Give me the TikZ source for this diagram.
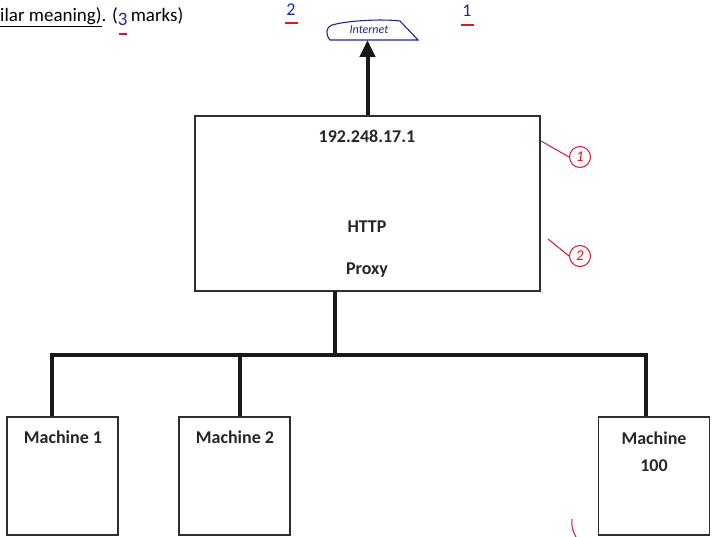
\documentclass[tikz,border=0pt]{standalone}
\usepackage{fontspec}
\setmainfont{Carlito}
\usetikzlibrary{arrows.meta}
\definecolor{pen}{HTML}{1C2A8C}
\definecolor{redpen}{HTML}{D8142A}
\definecolor{edge}{HTML}{2E2E2E}
\tikzset{
  box/.style={draw=edge, line width=1.8pt, fill=white, inner sep=0pt},
  lbl/.style={font=\fontsize{18}{20}\selectfont\bfseries, text=black!85, inner sep=0pt},
  wire/.style={line width=4pt, draw=black!90},
  hand/.style={text=pen, font=\fontsize{18}{20}\selectfont, inner sep=0pt},
  redmark/.style={draw=redpen, line width=1pt},
  redcircle/.style={draw=redpen, line width=1pt, circle, minimum size=21pt, inner sep=0pt, text=redpen, font=\fontsize{15}{16}\selectfont\itshape}
}
\begin{document}
\begin{tikzpicture}[x=1pt,y=-1pt]
\useasboundingbox (0,0) rectangle (713,537);
% header text
\node[anchor=west, inner sep=0pt, font=\fontsize{19}{21}\selectfont] (hdr) at (0,17) {\underline{ilar meaning)}. (\raisebox{-4pt}{\textcolor{pen}{3}}\,marks)};
\draw[redmark, line width=1.5pt] (119,34) -- (127,34);
\node[hand] (two) at (291,10) {2};
\draw[redmark, line width=1.5pt] (285,23) -- (298,23);
\node[hand] (one) at (467,11) {1};
\draw[redmark, line width=1.5pt] (461,25) -- (474,25);
% internet cloud
\draw[pen, line width=1.1pt] (330,40) .. controls (325,34) and (326,27) .. (332,25)
  .. controls (350,20) and (385,19) .. (400,21) -- (418,40) -- cycle;
\node[text=pen, inner sep=0pt, font=\fontsize{12}{13}\selectfont\itshape] (internet) at (369,30) {Internet};
% proxy box
\node[box, minimum width=345pt, minimum height=175pt] (proxy) at (367.5,203.5) {};
\node[lbl] (ip) at (367,136) {192.248.17.1};
\node[lbl] (http) at (367,227) {HTTP};
\node[lbl] (prx) at (367,270) {Proxy};
% arrow up to internet
\draw[wire, -{Triangle[length=17pt,width=15pt]}] (proxy.north) -- (367.5,40);
% red annotations
\node[redcircle] (c1) at (580,157) {1};
\draw[redmark] (541,141) -- (c1.west);
\node[redcircle] (c2) at (580,256) {2};
\draw[redmark] (548,239) -- (c2.west);
\draw[redmark] (572,519) .. controls (571,526) and (573,532) .. (576,537);
% machines
\node[box, minimum width=111pt, minimum height=118pt] (m1) at (62.5,476) {};
\node[box, minimum width=111pt, minimum height=118pt] (m2) at (234.5,476) {};
\node[box, minimum width=111pt, minimum height=118pt] (m100) at (654,476) {};
\node[lbl] (t1) at (63,437) {Machine 1};
\node[lbl] (t2) at (235,437) {Machine 2};
\node[lbl] (t100a) at (654,438) {Machine};
\node[lbl] (t100b) at (654,466) {100};
% bus
\coordinate (top) at (335,291);
\coordinate (bus) at (335,355);
\coordinate (b1) at (52,355);
\coordinate (b2) at (240,355);
\coordinate (b100) at (646,355);
\draw[wire] (top) -- (bus);
\draw[wire, line cap=rect] (b1) -- (b100);
\draw[wire] (b1) -- (b1 |- m1.north);
\draw[wire] (b2) -- (b2 |- m2.north);
\draw[wire] (b100) -- (b100 |- m100.north);
\end{tikzpicture}
\end{document}
